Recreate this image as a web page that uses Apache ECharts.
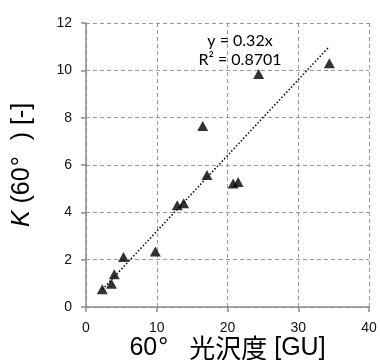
<!DOCTYPE html>
<html>
<head>
<meta charset="utf-8">
<script src="https://cdn.jsdelivr.net/npm/echarts@6/dist/echarts.min.js"></script>
<style>
  html, body { margin: 0; padding: 0; background: #fff; }
  #chart { width: 380px; height: 360px; }
</style>
</head>
<body>
<div id="chart"></div>
<script>
// Measured gloss (GU) and K(60°) pairs
const glossGU = [2.3, 3.6, 4.0, 5.3, 9.8, 12.9, 13.8, 16.5, 17.1, 20.8, 21.5, 24.4, 34.4];
const kValues = [0.75, 0.98, 1.38, 2.11, 2.34, 4.3, 4.38, 7.65, 5.58, 5.22, 5.28, 9.84, 10.3];

// Linear fit through the origin
const slope = 0.32;
const rSquared = '0.8701';

const xTicks = [0, 10, 20, 30, 40];
const yTicks = [0, 2, 4, 6, 8, 10, 12];

const points = glossGU.map((x, i) => [x, kValues[i]]);
const xMin = Math.min(...glossGU);
const xMax = Math.max(...glossGU);
const trend = [[xMin, slope * xMin], [xMax, slope * xMax]];

const chart = echarts.init(document.getElementById('chart'));

const axisLineStyle = { color: '#8a8a8a', width: 1.5 };
const gridStyle = { color: '#9a9a9a', width: 1, type: [4, 3] };

chart.setOption({
  animation: false,
  backgroundColor: '#ffffff',
  grid: { left: 86, right: 11, top: 23, bottom: 53, containLabel: false, outerBoundsMode: 'none' },
  xAxis: {
    type: 'value',
    min: xTicks[0],
    max: xTicks[xTicks.length - 1],
    interval: 10,
    axisLine: { show: true, lineStyle: axisLineStyle },
    axisTick: { show: true, inside: false, length: 5, lineStyle: axisLineStyle },
    axisLabel: { color: '#111', fontSize: 14, fontFamily: 'Liberation Sans', margin: 14 },
    splitLine: { show: true, lineStyle: gridStyle },
    name: '{n|60}{deg|°}{jp|光沢度}{n| [GU]}',
    nameLocation: 'middle',
    nameGap: 28.5,
    nameMoveOverlap: false,
    nameTextStyle: {
      verticalAlign: 'top',
      rich: {
        n: { fontSize: 25, fontFamily: 'Liberation Sans', color: '#000' },
        deg: { fontSize: 25, fontFamily: 'Liberation Sans', color: '#000', padding: [0, 21, 0, 1] },
        jp: { fontSize: 26, fontFamily: 'Noto Sans CJK JP', color: '#000' }
      }
    }
  },
  yAxis: {
    type: 'value',
    min: yTicks[0],
    max: yTicks[yTicks.length - 1],
    interval: 2,
    axisLine: { show: true, lineStyle: axisLineStyle },
    axisTick: { show: true, inside: false, length: 5, lineStyle: axisLineStyle },
    axisLabel: { color: '#111', fontSize: 14, fontFamily: 'Liberation Sans', margin: 14 },
    splitLine: { show: true, lineStyle: gridStyle },
    name: '{k|K}{n| (60}{deg|°}{n|) [-]}',
    nameLocation: 'middle',
    nameGap: 51,
    nameMoveOverlap: false,
    nameRotate: 90,
    nameTextStyle: {
      rich: {
        k: { fontSize: 25, fontFamily: 'Liberation Sans', fontStyle: 'italic', color: '#000' },
        n: { fontSize: 25, fontFamily: 'Liberation Sans', color: '#000' },
        deg: { fontSize: 25, fontFamily: 'Liberation Sans', color: '#000', padding: [0, 16, 0, 1] }
      }
    }
  },
  series: [
    {
      type: 'line',
      data: trend,
      symbol: 'none',
      lineStyle: { color: '#000', width: 1.5, type: [1.5, 2] },
      silent: true,
      z: 2
    },
    {
      type: 'scatter',
      data: points,
      symbol: 'triangle',
      symbolSize: [11, 10],
      itemStyle: { color: '#000' },
      z: 3
    }
  ],
  graphic: [
    {
      type: 'text',
      x: 240, y: 31,
      style: {
        text: 'y = ' + slope + 'x\nR² = ' + rSquared,
        font: '16px Lato',
        fill: '#000',
        align: 'center',
        textAlign: 'center',
        lineHeight: 19
      }
    }
  ]
});
</script>
</body>
</html>
